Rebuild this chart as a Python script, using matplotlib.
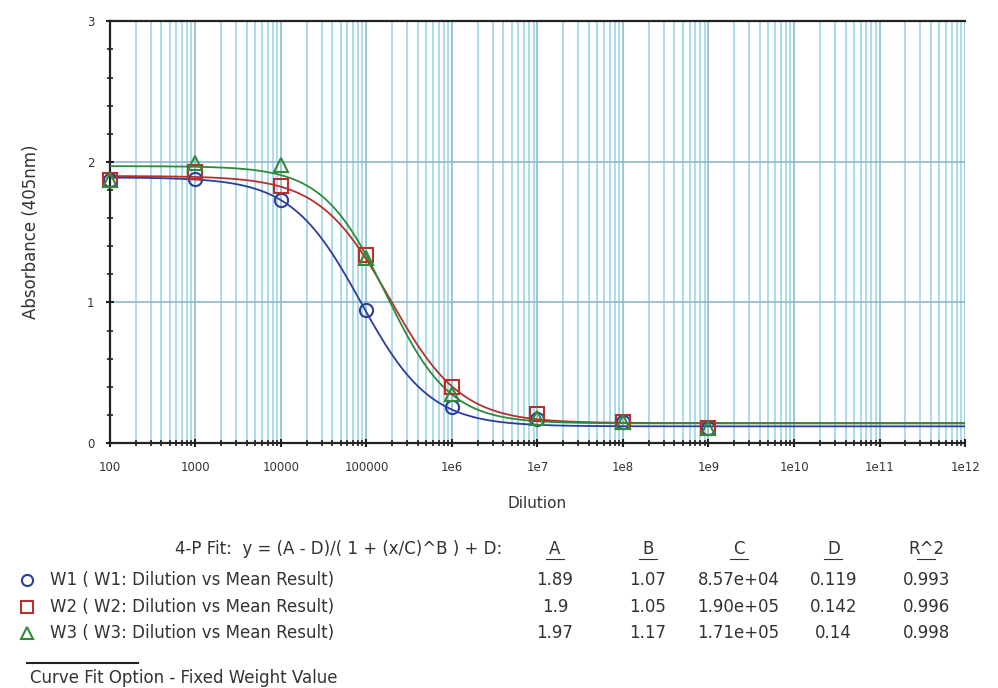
import matplotlib.pyplot as plt
import numpy as np
from matplotlib.ticker import FixedLocator, NullFormatter

plt.rcParams["font.family"] = ["DejaVu Sans"]

# Measured points (dilution vs mean absorbance)
dilution = [100, 1000, 10000, 100000, 1e6, 1e7, 1e8, 1e9]
w1_abs = [1.87, 1.88, 1.73, 0.95, 0.26, 0.17, 0.15, 0.11]
w2_abs = [1.87, 1.93, 1.83, 1.34, 0.40, 0.21, 0.15, 0.11]
w3_abs = [1.87, 1.99, 1.98, 1.32, 0.35, 0.18, 0.15, 0.11]

# 4-P fit parameters as printed in the table
series_names = ["W1 ( W1: Dilution vs Mean Result)",
                "W2 ( W2: Dilution vs Mean Result)",
                "W3 ( W3: Dilution vs Mean Result)"]
fit_A = [1.89, 1.9, 1.97]
fit_B = [1.07, 1.05, 1.17]
fit_C = [8.57e4, 1.90e5, 1.71e5]
fit_D = [0.119, 0.142, 0.14]
fit_A_txt = ["1.89", "1.9", "1.97"]
fit_B_txt = ["1.07", "1.05", "1.17"]
fit_C_txt = ["8.57e+04", "1.90e+05", "1.71e+05"]
fit_D_txt = ["0.119", "0.142", "0.14"]
fit_R2_txt = ["0.993", "0.996", "0.998"]

x_ticks = [1e2, 1e3, 1e4, 1e5, 1e6, 1e7, 1e8, 1e9, 1e10, 1e11, 1e12]
x_tick_labels = ["100", "1000", "10000", "100000", "1e6", "1e7", "1e8",
                 "1e9", "1e10", "1e11", "1e12"]

colors = ["#2c3d9c", "#b8302c", "#2f8a3a"]
markers = ["o", "s", "^"]
series = [w1_abs, w2_abs, w3_abs]

fig = plt.figure(figsize=(9.98, 6.88), dpi=100)
ax = fig.add_axes([0.110, 0.356, 0.857, 0.613])

ax.set_xscale("log")
ax.set_xlim(1e2, 1e12)
ax.set_ylim(0, 3)

# Grid: lots of pale blue verticals, a couple of horizontals
minor_x = [m * 10.0 ** k for k in range(2, 12) for m in range(2, 10)]
ax.xaxis.set_minor_locator(FixedLocator(minor_x))
ax.xaxis.set_minor_formatter(NullFormatter())
ax.grid(True, which="minor", axis="x", color="#abdcec", lw=1.4)
ax.grid(True, which="major", axis="x", color="#9cc6d4", lw=1.4)
ax.set_yticks([0, 1, 2, 3])
ax.yaxis.set_minor_locator(FixedLocator(np.arange(0, 3.01, 0.2)))
ax.grid(True, which="major", axis="y", color="#8fb6c8", lw=1.2)
ax.set_axisbelow(True)

x_fit = np.logspace(2, 12, 400)
for A, B, C, D, col in zip(fit_A, fit_B, fit_C, fit_D, colors):
    y_fit = (A - D) / (1 + (x_fit / C) ** B) + D
    ax.plot(x_fit, y_fit, color=col, lw=1.3, zorder=3)

for y, col, m in zip(series, colors, markers):
    ax.plot(dilution, y, ls="none", marker=m, ms=9.5, mfc="none",
            mec=col, mew=1.5, zorder=4, clip_on=False)

ax.set_xticks(x_ticks)
ax.set_xticklabels(x_tick_labels)
ax.tick_params(axis="both", which="major", labelsize=8.5, color="#222222",
               labelcolor="#333333", length=6, width=1.5, direction="inout")
ax.tick_params(axis="x", which="major", pad=10)
ax.tick_params(axis="y", which="major", pad=8)
ax.tick_params(axis="both", which="minor", length=4, width=1.2,
               color="#222222", direction="inout")
for side in ["left", "bottom", "top"]:
    ax.spines[side].set_color("#222222")
    ax.spines[side].set_linewidth(1.6)
ax.spines["right"].set_visible(False)

ax.set_xlabel("Dilution", fontsize=11, color="#333333", labelpad=16)
ax.set_ylabel("Absorbance (405nm)", fontsize=12, color="#333333",
              labelpad=34)

# Fit parameter table under the chart
txt = dict(fontsize=12, color="#333333", va="center")
col_x = [0.556, 0.649, 0.740, 0.835, 0.928]
head_y = 1 - 549 / 688
fig.text(0.503, head_y, "4-P Fit:  y = (A - D)/( 1 + (x/C)^B ) + D:",
         ha="right", **txt)
for cx, head in zip(col_x, ["A", "B", "C", "D", "R^2"]):
    fig.text(cx, head_y, head, ha="center", **txt)
    fig.lines.append(plt.Line2D([cx - 0.009, cx + 0.009],
                                [1 - 559 / 688] * 2, color="#333333",
                                lw=0.8, transform=fig.transFigure))

row_y = [580, 607, 633]
for i in range(3):
    yy = 1 - row_y[i] / 688
    fig.lines.append(plt.Line2D([0.027], [yy], marker=markers[i], ms=8,
                                mfc="none", mec=colors[i], mew=1.5,
                                transform=fig.transFigure))
    fig.text(0.050, yy, series_names[i], ha="left", **txt)
    vals = [fit_A_txt[i], fit_B_txt[i], fit_C_txt[i], fit_D_txt[i],
            fit_R2_txt[i]]
    for cx, v in zip(col_x, vals):
        fig.text(cx, yy, v, ha="center", **txt)

fig.lines.append(plt.Line2D([0.027, 0.138], [1 - 663 / 688] * 2,
                            color="#222222", lw=1.5,
                            transform=fig.transFigure))
fig.text(0.030, 1 - 678 / 688, "Curve Fit Option - Fixed Weight Value",
         ha="left", **txt)

fig.savefig("out.png", dpi=100)
